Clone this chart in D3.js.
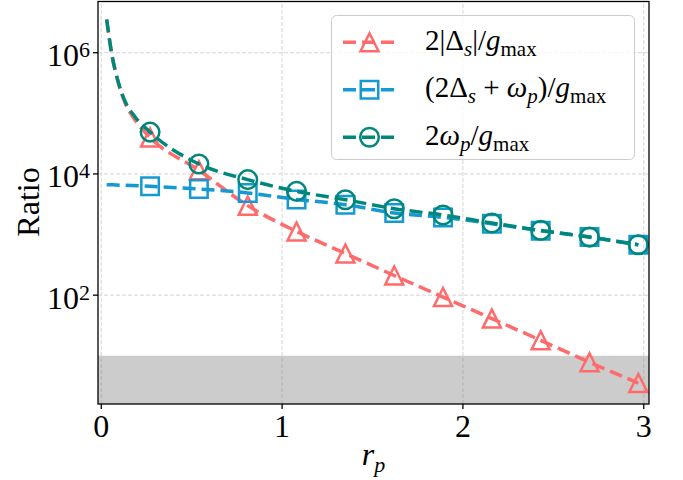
<!DOCTYPE html>
<html>
<head>
<meta charset="utf-8">
<script src="https://cdn.jsdelivr.net/npm/d3@7"></script>
<style>
body { margin: 0; background: #fff; }
text { font-family: "Liberation Serif", "DejaVu Serif", serif; fill: #000; white-space: pre; }
</style>
</head>
<body>
<script>
var width = 683
var height = 480
var margin = {top: 1.5, right: 34, bottom: 76, left: 98}

// values read at the markers
var rMarkers = [0.27, 0.54, 0.81, 1.08, 1.35, 1.62, 1.89, 2.16, 2.43, 2.70, 2.97]
var deltaRatio = [4.0e4, 1.15e4, 3000, 1125, 487, 211, 93, 41, 18, 7.8, 3.55]
var sumRatio = [6240, 5650, 4860, 3800, 3110, 2270, 1920, 1510, 1155, 908, 678]
var omegaRatio = [4.9e4, 1.46e4, 8050, 5160, 3760, 2670, 2100, 1550, 1170, 908, 678]

// steep start of the curves, before the first marker
var rLead = [0.030, 0.057, 0.094, 0.131, 0.186]
var deltaLead = [3.5e6, 9.8e5, 3.2e5, 1.5e5, 7.8e4]
var omegaLead = [3.55e6, 1.0e6, 3.3e5, 1.6e5, 8.8e4]
var sumLead = [6650]

var xTicks = [0, 1, 2, 3]
var yTicks = [1e2, 1e4, 1e6]
var bandTop = 10

var svg = d3.select("body")
    .append("svg")
        .attr("width", width)
        .attr("height", height)

var x = d3.scaleLinear()
    .domain([-0.018, 3.029])
    .range([margin.left, width - margin.right])

var y = d3.scaleLog()
    .domain([1.6, 7.0e6])
    .range([height - margin.bottom, margin.top])

// grid
svg.selectAll("xgrid")
    .data(xTicks)
    .enter()
    .append("line")
        .attr("x1", function(d) { return x(d) })
        .attr("x2", function(d) { return x(d) })
        .attr("y1", y.range()[0])
        .attr("y2", y.range()[1])
        .attr("stroke", "#d4d4d4")
        .attr("stroke-width", 1)
        .attr("stroke-dasharray", "4,2")

svg.selectAll("ygrid")
    .data(yTicks)
    .enter()
    .append("line")
        .attr("x1", x.range()[0])
        .attr("x2", x.range()[1])
        .attr("y1", function(d) { return y(d) })
        .attr("y2", function(d) { return y(d) })
        .attr("stroke", "#d4d4d4")
        .attr("stroke-width", 1)
        .attr("stroke-dasharray", "4,2")

// shaded region below 10
svg.append("rect")
    .attr("x", x.range()[0])
    .attr("y", y(bandTop))
    .attr("width", x.range()[1] - x.range()[0])
    .attr("height", y.range()[0] - y(bandTop))
    .attr("fill", "#808080")
    .attr("opacity", 0.4)

var triangle = {
    draw: function(ctx, size) {
        var r = Math.sqrt(size) / 2
        ctx.moveTo(0, -r)
        ctx.lineTo(r, r)
        ctx.lineTo(-r, r)
        ctx.closePath()
    }
}

var series = [
    {rl: rLead, vl: deltaLead, v: deltaRatio, color: "#ff6b6b", sym: d3.symbol().type(triangle).size(18 * 18),
        label: [["2|Δ", "n"], ["s", "s"], ["|/", "n"], ["g", "i"], ["max", "r"]]},
    {rl: rLead.slice(0, 1), vl: sumLead, v: sumRatio, color: "#1499d3", sym: d3.symbol().type(d3.symbolSquare).size(17.5 * 17.5),
        label: [["(2Δ", "n"], ["s", "s"], [" + ", "n"], ["ω", "i"], ["p", "s"], [")/", "n"], ["g", "i"], ["max", "r"]]},
    {rl: rLead, vl: omegaLead, v: omegaRatio, color: "#00877b", sym: d3.symbol().type(d3.symbolCircle).size(Math.PI * 9.3 * 9.3),
        label: [["2", "n"], ["ω", "i"], ["p", "s"], ["/", "n"], ["g", "i"], ["max", "r"]]}
]

var line = d3.line()
    .x(function(d) { return x(d[0]) })
    .y(function(d) { return y(d[1]) })
    .curve(d3.curveMonotoneX)

series.forEach(function(s) {
    var pts = s.rl.map(function(r, i) { return [r, s.vl[i]] })
        .concat(rMarkers.map(function(r, i) { return [r, s.v[i]] }))
    svg.append("path")
        .datum(pts)
        .attr("d", line)
        .attr("fill", "none")
        .attr("stroke", s.color)
        .attr("stroke-width", 3.5)
        .attr("stroke-dasharray", "13,6")
    svg.selectAll("marks")
        .data(rMarkers)
        .enter()
        .append("path")
            .attr("d", s.sym)
            .attr("transform", function(d, i) { return "translate(" + x(d) + "," + y(s.v[i]) + ")" })
            .attr("fill", "none")
            .attr("stroke", s.color)
            .attr("stroke-width", 2.5)
})

// axes frame
svg.append("rect")
    .attr("x", x.range()[0])
    .attr("y", y.range()[1])
    .attr("width", x.range()[1] - x.range()[0])
    .attr("height", y.range()[0] - y.range()[1])
    .attr("fill", "none")
    .attr("stroke", "#000")
    .attr("stroke-width", 1.3)

// ticks
svg.selectAll("xtick")
    .data(xTicks)
    .enter()
    .append("line")
        .attr("x1", function(d) { return x(d) })
        .attr("x2", function(d) { return x(d) })
        .attr("y1", y.range()[0])
        .attr("y2", y.range()[0] + 5)
        .attr("stroke", "#000")
        .attr("stroke-width", 1.3)

svg.selectAll("xlab")
    .data(xTicks)
    .enter()
    .append("text")
        .attr("x", function(d) { return x(d) })
        .attr("y", 436.5)
        .attr("text-anchor", "middle")
        .style("font-size", "32px")
        .text(function(d) { return d })

svg.selectAll("ytick")
    .data(yTicks)
    .enter()
    .append("line")
        .attr("x1", x.range()[0] - 5)
        .attr("x2", x.range()[0])
        .attr("y1", function(d) { return y(d) })
        .attr("y2", function(d) { return y(d) })
        .attr("stroke", "#000")
        .attr("stroke-width", 1.3)

var ylab = svg.selectAll("ylab")
    .data(yTicks)
    .enter()
    .append("text")
        .attr("x", 90)
        .attr("y", function(d) { return y(d) + 13.5 })
        .attr("text-anchor", "end")
        .style("font-size", "32px")
ylab.append("tspan").text("10")
ylab.append("tspan")
    .attr("dy", -9)
    .style("font-size", "22px")
    .text(function(d) { return Math.round(Math.log10(d)) })

// axis titles
svg.append("text")
    .attr("transform", "translate(39," + 202 + ") rotate(-90)")
    .attr("text-anchor", "middle")
    .style("font-size", "32px")
    .text("Ratio")

var xt = svg.append("text")
    .attr("x", (x.range()[0] + x.range()[1]) / 2)
    .attr("y", 465)
    .attr("text-anchor", "middle")
    .style("font-size", "32px")
xt.append("tspan").style("font-style", "italic").text("r")
xt.append("tspan").attr("dy", 7).style("font-style", "italic").style("font-size", "22px").text("p")

// legend
function mathText(t, parts) {
    var shift = 0
    parts.forEach(function(p) {
        var ts = t.append("tspan").text(p[0])
        var target = (p[1] == "s" || p[1] == "r") ? 6 : 0
        if (target != shift) ts.attr("dy", target - shift)
        shift = target
        if (p[1] == "i" || p[1] == "s") ts.style("font-style", "italic")
        if (p[1] == "s" || p[1] == "r") ts.style("font-size", "21px")
    })
}

var legend = svg.append("g")
legend.append("rect")
    .attr("x", 331.5)
    .attr("y", 15.5)
    .attr("width", 303)
    .attr("height", 144)
    .attr("rx", 5)
    .attr("fill", "#fff")
    .attr("fill-opacity", 0.8)
    .attr("stroke", "#cccccc")
    .attr("stroke-width", 1)

series.forEach(function(s, i) {
    var ly = 42.3 + i * 47.5
    legend.append("line")
        .attr("x1", 343)
        .attr("x2", 396)
        .attr("y1", ly)
        .attr("y2", ly)
        .attr("stroke", s.color)
        .attr("stroke-width", 3.5)
        .attr("stroke-dasharray", "13,6")
    legend.append("path")
        .attr("d", s.sym)
        .attr("transform", "translate(369.5," + ly + ")")
        .attr("fill", "none")
        .attr("stroke", s.color)
        .attr("stroke-width", 2.5)
    var t = legend.append("text")
        .attr("x", 425)
        .attr("y", ly + 7.5)
        .style("font-size", "29px")
    mathText(t, s.label)
})
</script>
</body>
</html>
